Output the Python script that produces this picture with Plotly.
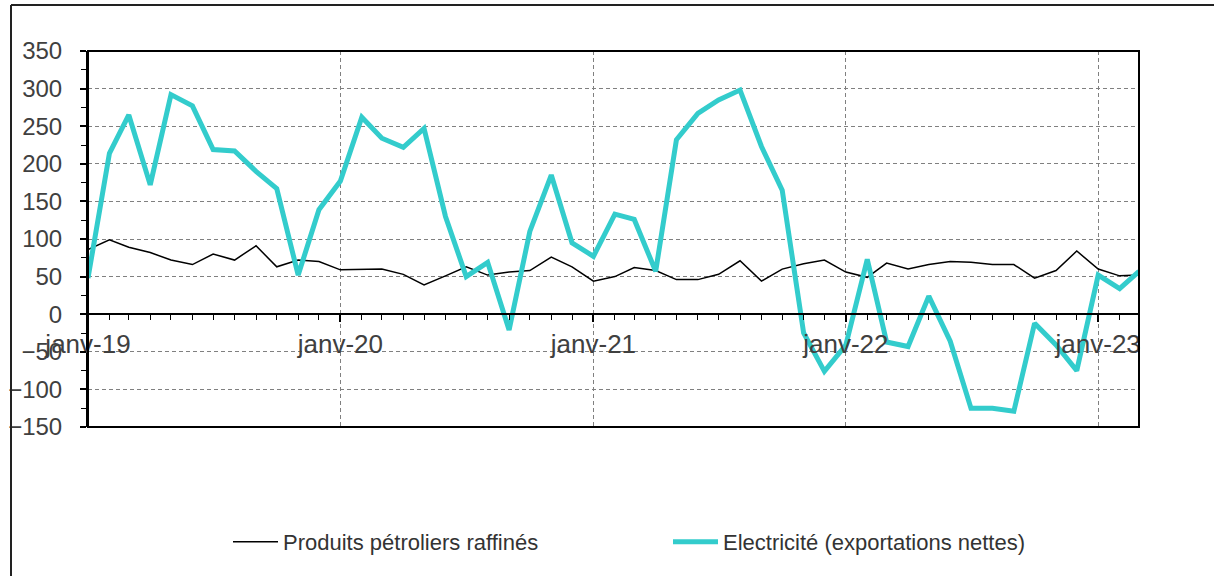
import pandas as pd
import plotly.graph_objects as go

months = pd.date_range("2019-01-01", periods=51, freq="MS")
petrole = [86, 99, 89, 82, 72, 66, 80, 72, 91, 63,
           72, 70, 59, 60, 60, 53, 39, 51, 63, 52,
           56, 58, 76, 63, 44, 50, 62, 58, 46, 46,
           53, 71, 44, 60, 67, 72, 56, 49, 68, 60,
           66, 70, 69, 66, 66, 48, 58, 84, 60, 51, 52]
electricite = [48, 214, 265, 172, 292, 277, 219, 217, 190, 167,
               52, 139, 177, 262, 234, 222, 247, 130, 50, 69,
               -21, 110, 185, 95, 77, 133, 126, 57, 232, 267,
               285, 298, 223, 165, -25, -76, -41, 73, -37, -43,
               24, -36, -125, -125, -129, -12, -41, -75, 52, 34, 57]
xtick_vals = ["2019-01-01", "2020-01-01", "2021-01-01", "2022-01-01", "2023-01-01"]
xtick_text = ["janv-19", "janv-20", "janv-21", "janv-22", "janv-23"]
name_petrole = "Produits pétroliers raffinés"
name_elec = "Electricité (exportations nettes)"

FONT = "Liberation Sans, Arial, sans-serif"
W, H = 1214, 576
OFF = 0  # body margin removed via post_script
# target plot area in page pixels: x 88..1139, y 51..427
L = 88 - OFF
T = 51 - OFF
R = W - (1139 - OFF)
B = H - (427 - OFF)
pw, ph = W - L - R, H - T - B

def px_x(x):  # page pixel -> paper
    return (x - OFF - L) / pw

def px_y(y):
    return (H - B - (y - OFF)) / ph

fig = go.Figure()
fig.add_trace(go.Scatter(x=months, y=petrole, mode="lines", name=name_petrole,
                         line=dict(color="#000000", width=1.5)))
fig.add_trace(go.Scatter(x=months, y=electricite, mode="lines", name=name_elec,
                         line=dict(color="#33CCCC", width=5)))

zero_pos = (0 - (-150)) / 500.0

fig.update_layout(
    width=W, height=H,
    margin=dict(l=L, r=R, t=T, b=B, autoexpand=False),
    paper_bgcolor="white", plot_bgcolor="white",
    font=dict(family=FONT, color="#404040"),
    showlegend=True,
    legend=dict(orientation="h", x=px_x(228), y=px_y(542), xanchor="left", yanchor="middle",
                font=dict(size=22, color="#333333", family=FONT),
                itemwidth=45, entrywidth=380, bgcolor="rgba(0,0,0,0)"),
    xaxis=dict(
        type="date",
        range=["2019-01-01", "2023-03-01"],
        anchor="free", position=zero_pos,
        tickmode="array", tickvals=xtick_vals, ticktext=xtick_text,
        ticks="outside", ticklen=7, tickwidth=1.5, tickcolor="#000000",
        minor=dict(dtick="M1", ticks="outside", ticklen=5, tickwidth=1.2,
                   tickcolor="#000000", showgrid=False),
        showgrid=True, gridcolor="#808080", griddash="4px,3px", gridwidth=1.2,
        showline=True, linecolor="#000000", linewidth=2,
        tickfont=dict(size=26, color="#404040", family=FONT),
        ticklabelstandoff=0,
        zeroline=False,
    ),
    yaxis=dict(
        range=[-150, 350], dtick=50, tick0=0,
        ticks="outside", ticklen=6, tickwidth=1.5, tickcolor="#000000",
        minor=dict(dtick=25, ticks="outside", ticklen=5, tickwidth=1.2,
                   tickcolor="#000000", showgrid=False),
        showgrid=True, gridcolor="#808080", griddash="4px,3px", gridwidth=1.2,
        showline=True, linecolor="#000000", linewidth=2,
        tickfont=dict(size=24, color="#404040", family=FONT),
        ticklabelstandoff=13,
        zeroline=False,
    ),
    shapes=[
        dict(type="rect", xref="paper", yref="paper", x0=0, x1=1, y0=0, y1=1,
             line=dict(color="#000000", width=2), layer="above"),
        dict(type="line", xref="paper", yref="paper", x0=px_x(11), x1=px_x(11),
             y0=px_y(5), y1=px_y(600), line=dict(color="#222222", width=2)),
        dict(type="line", xref="paper", yref="paper", x0=px_x(11), x1=px_x(1230),
             y0=px_y(5), y1=px_y(5), line=dict(color="#222222", width=2)),
    ],
)

fig.write_html("out.html", config={"displayModeBar": False},
               post_script="document.body.style.margin='0';document.body.style.overflow='hidden';")
